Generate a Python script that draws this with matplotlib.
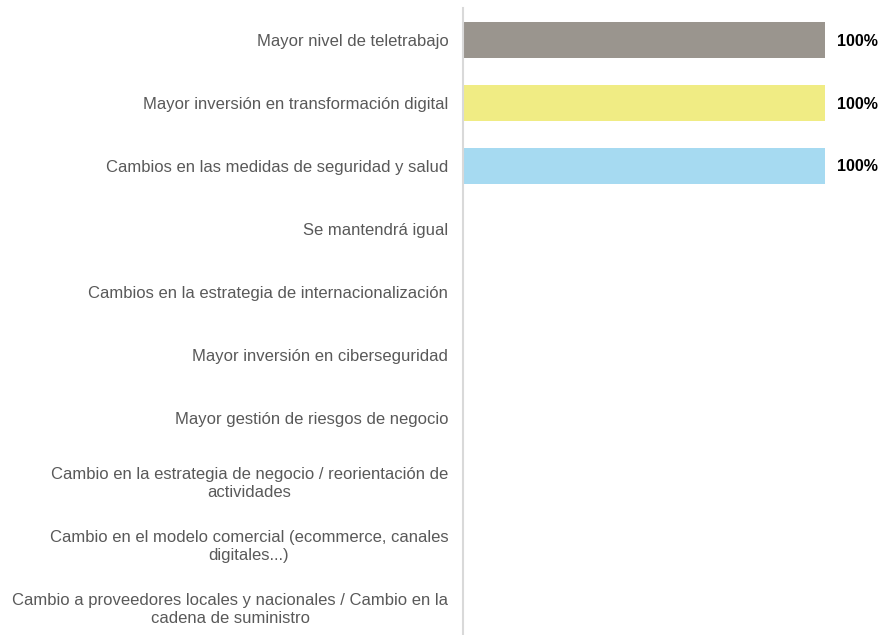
import matplotlib.pyplot as plt

plt.rcParams['font.family'] = ['Liberation Sans', 'DejaVu Sans']

# Respuestas (de arriba abajo) y porcentaje
categorias = [
    'Mayor nivel de teletrabajo',
    'Mayor inversión en transformación digital',
    'Cambios en las medidas de seguridad y salud',
    'Se mantendrá igual',
    'Cambios en la estrategia de internacionalización',
    'Mayor inversión en ciberseguridad',
    'Mayor gestión de riesgos de negocio',
    'Cambio en la estrategia de negocio / reorientación de\nactividades',
    'Cambio en el modelo comercial (ecommerce, canales\ndigitales...)',
    'Cambio a proveedores locales y nacionales / Cambio en la\ncadena de suministro',
]
valores = [100, 100, 100, 0, 0, 0, 0, 0, 0, 0]
colores = ['#9a958e', '#f0ec84', '#a6daf1'] + ['#9a958e'] * 7

fig = plt.figure(figsize=(8.8, 6.35), dpi=100)
ax = fig.add_axes([0.526, -0.005, 0.4115, 0.992])

pos = list(range(len(categorias)))
ax.barh(pos, valores, height=0.57, color=colores)

for y, v in zip(pos, valores):
    if v > 0:
        ax.text(v + 3.3, y + 0.02, f'{v}%', va='center', ha='left',
                fontsize=11.5, fontweight='bold', color='black')

ax.set_xlim(0, 100)
ax.set_ylim(len(categorias) - 0.5, -0.5)
ax.set_yticks(pos)
ax.set_yticklabels(categorias, fontsize=12, color='#595959')
for lbl in ax.get_yticklabels():
    lbl.set_multialignment('center')
    lbl.set_linespacing(1.2)
ax.tick_params(axis='y', length=0, pad=10.5)
ax.set_xticks([])

for s in ['top', 'right', 'bottom']:
    ax.spines[s].set_visible(False)
ax.spines['left'].set_color('#d9d9d9')
ax.spines['left'].set_linewidth(1.5)

fig.savefig('out.png', dpi=100)
